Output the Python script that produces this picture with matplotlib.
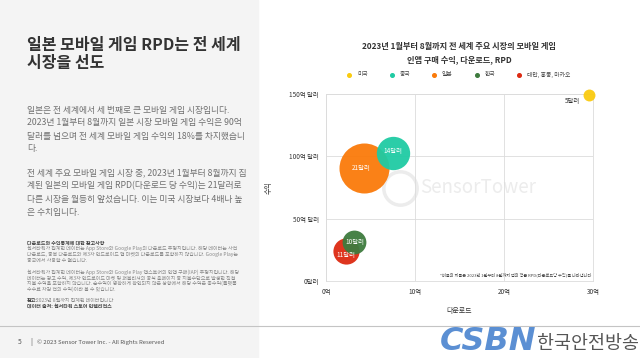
import numpy as np
import matplotlib.pyplot as plt
from matplotlib.lines import Line2D
from matplotlib.patches import Rectangle

plt.rcParams['font.family'] = ['Noto Sans CJK KR', 'DejaVu Sans']

# data
markets = ['미국', '중국', '일본', '한국', '대만, 홍콩, 마카오']
downloads = [29.5, 7.5, 4.3, 3.2, 2.2]      # 억
revenue = [149, 103, 91, 31, 24]             # 억 달러
rpd = [5, 14, 21, 10, 11]                    # 달러
rpd_labels = ['5달러', '14달러', '21달러', '10달러', '11달러']
colors = ['#FACB0F', '#1FCBA3', '#FA7A0A', '#3E7B3E', '#DD2A12']

x_ticks = [0, 10, 20, 30]
x_ticklabels = ['0억', '10억', '20억', '30억']
y_ticks = [0, 50, 100, 150]
y_ticklabels = ['0달러', '50억 달러', '100억 달러', '150억 달러']

W, H = 640, 358
def fx(x):
    return x / W
def fy(y):
    return 1 - y / H

fig = plt.figure(figsize=(6.4, 3.58), dpi=100)

# left grey panel and footer line
fig.add_artist(Rectangle((0, 0), fx(258), 1, transform=fig.transFigure,
                         color='#f4f4f4', zorder=0))
fig.add_artist(Line2D([0, 1], [fy(326), fy(326)], transform=fig.transFigure,
                      color='#c4c4c4', lw=0.8))

# left column text
fig.text(fx(27), fy(45), '일본 모바일 게임 RPD는 전 세계', fontsize=11.5,
         fontweight='bold', color='#333333', va='center')
fig.text(fx(27), fy(63), '시장을 선도', fontsize=11.5,
         fontweight='bold', color='#333333', va='center')

para1 = ['일본은 전 세계에서 세 번째로 큰 모바일 게임 시장입니다.',
         '2023년 1월부터 8월까지 일본 시장 모바일 게임 수익은 90억',
         '달러를 넘으며 전 세계 모바일 게임 수익의 18%를 차지했습니',
         '다.']
para2 = ['전 세계 주요 모바일 게임 시장 중, 2023년 1월부터 8월까지 집',
         '계된 일본의 모바일 게임 RPD(다운로드 당 수익)는 21달러로',
         '다른 시장을 월등히 앞섰습니다. 이는 미국 시장보다 4배나 높',
         '은 수치입니다.']
for i, line in enumerate(para1):
    fig.text(fx(27), fy(110 + 13 * i), line, fontsize=6.3, color='#707070', va='center')
for i, line in enumerate(para2):
    fig.text(fx(27), fy(173 + 13 * i), line, fontsize=6.3, color='#707070', va='center')

notes1 = ['센서타워가 집계한 데이터는 App Store와 Google Play의 다운로드 추정치입니다. 해당 데이터는 사전',
          '다운로드, 중복 다운로드와 제3자 안드로이드 앱 마켓의 다운로드를 포함하지 않습니다. Google Play는',
          '중국에서 사용할 수 없습니다.']
notes2 = ['센서타워가 집계한 데이터는 App Store와 Google Play 앱스토어의 인앱 구매(IAP) 추정치입니다. 해당',
          '데이터는 광고 수익, 제3자 안드로이드 마켓 및 퍼블리셔의 공식 홈페이지 등 지불수단으로 발생한 직접',
          '지불 수익을 포함하지 않습니다. 순수익이 명확하게 확인되지 않은 상황에서 해당 수익은 총수익(플랫폼',
          '수수료 차감 전의 수익)이라 볼 수 있습니다.']
fs_note = 3.6
fig.text(fx(27), fy(243), '다운로드와 수익통계에 대한 참고사항', fontsize=fs_note,
         fontweight='bold', color='#444444', va='center')
for i, line in enumerate(notes1):
    fig.text(fx(27), fy(248.7 + 5.6 * i), line, fontsize=fs_note, color='#888888', va='center')
for i, line in enumerate(notes2):
    fig.text(fx(27), fy(272.5 + 5.6 * i), line, fontsize=fs_note, color='#888888', va='center')
fig.text(fx(27), fy(300.5), '참고:', fontsize=fs_note, fontweight='bold', color='#444444', va='center')
fig.text(fx(36.5), fy(300.5), '2023년 8월까지 집계된 데이터입니다', fontsize=fs_note,
         color='#888888', va='center')
fig.text(fx(27), fy(306), '데이터 출처: 센서타워 스토어 인텔리전스', fontsize=fs_note,
         fontweight='bold', color='#444444', va='center')

# footer
fig.text(fx(18), fy(342), '5', fontsize=4.8, color='#555555', va='center')
fig.text(fx(30), fy(342), '|', fontsize=5.5, color='#555555', va='center')
fig.text(fx(37), fy(342), '© 2023 Sensor Tower Inc. - All Rights Reserved', fontsize=4.3,
         color='#555555', va='center')

# chart title and legend
fig.text(fx(459), fy(46), '2023년 1월부터 8월까지 전 세계 주요 시장의 모바일 게임',
         fontsize=5.9, fontweight='bold', color='#333333', ha='center', va='center')
fig.text(fx(459), fy(60), '인앱 구매 수익, 다운로드, RPD',
         fontsize=5.9, fontweight='bold', color='#333333', ha='center', va='center')
for i, (name, c) in enumerate(zip(markets, colors)):
    x0 = 349 + 42.5 * i
    fig.add_artist(Line2D([fx(x0)], [fy(75)], marker='o', markersize=2.6, color=c,
                          lw=0, transform=fig.transFigure))
    fig.text(fx(x0 + 8), fy(75), name, fontsize=4.2, color='#444444', va='center')

# axes
ax = fig.add_axes([fx(326), fy(281), fx(593) - fx(326), fy(94) - fy(281)])
ax.set_xlim(0, 30)
ax.set_ylim(0, 150)
ax.set_xticks(x_ticks)
ax.set_xticklabels(x_ticklabels)
ax.set_yticks(y_ticks)
ax.set_yticklabels(y_ticklabels)
ax.tick_params(length=0, labelsize=4.6, labelcolor='#333333', pad=5)
ax.grid(color='#dcdcdc', lw=0.6)
ax.set_axisbelow(True)
for s in ax.spines.values():
    s.set_color('#dcdcdc')
    s.set_linewidth(0.6)
ax.set_xlabel('다운로드', fontsize=5, color='#333333', labelpad=8)
ax.set_ylabel('수익', fontsize=5, color='#333333', labelpad=12)

# watermark
ax.text(0.57, 0.5, 'SensorTower', transform=ax.transAxes, fontsize=13.5,
        color='#ececec', ha='center', va='center', zorder=0)
ax.plot([0.277], [0.5], marker='o', markersize=24, mfc='none', mec='#ececec',
        mew=2.5, transform=ax.transAxes, zorder=0)

# bubbles, biggest first so smaller ones sit on top
order = np.argsort(rpd)[::-1]
for i in order:
    ax.scatter(downloads[i], revenue[i], s=2.94 * rpd[i] ** 2, color=colors[i],
               alpha=0.95, lw=0, clip_on=False, zorder=3)

offsets = [(-6, -4), (0, 1), (-2, 0), (0, 0), (0, -3)]
for i in range(len(markets)):
    ha = 'right' if i == 0 else 'center'
    tc = '#333333' if i == 0 else 'white'
    ax.annotate(rpd_labels[i], (downloads[i], revenue[i]), xytext=offsets[i],
                textcoords='offset points', ha=ha, va='center', fontsize=4.6,
                color=tc, zorder=4)

ax.text(0.995, 0.03, '*버블의 지름은 2023년 1월부터 8월까지 앱의 평균 RPD(다운로드당 수익)를 나타냅니다',
        transform=ax.transAxes, fontsize=3.0, color='#444444', ha='right', va='center')

# CSBN logo overlay
fig.text(fx(440), fy(342), 'CSBN', fontsize=23, fontweight='bold', style='italic',
         color='#5b8fd3', va='center', family=['DejaVu Sans'])
fig.text(fx(537), fy(344), '한국안전방송', fontsize=13.3, color='#555555', va='center')

fig.savefig('out.png', dpi=100)
